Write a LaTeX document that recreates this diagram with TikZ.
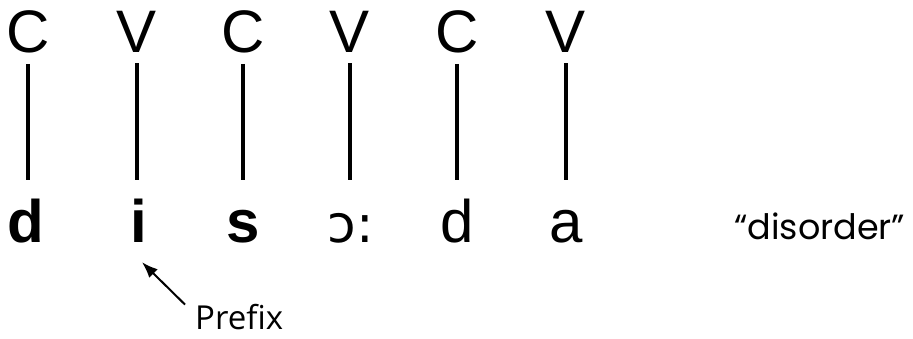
\documentclass[tikz,border=0pt]{standalone}
\usepackage{fontspec}
\setmainfont{Liberation Sans}
\newfontfamily\ipafont{DejaVu Sans}
\newfontfamily\glossfont{Poppins}
\newfontfamily\notefont{Open Sans}
\usetikzlibrary{arrows.meta}
\begin{document}
\begin{tikzpicture}[x=1pt, y=-1pt, >={Latex[length=16pt,width=12pt]},
    slot/.style={inner sep=0pt, anchor=base, font=\fontsize{60}{60}\selectfont},
    seg/.style={inner sep=0pt, anchor=base, text height=43pt, text depth=0pt,
        font=\fontsize{60}{60}\selectfont},
    tie/.style={line width=3.5pt, shorten <=11pt, shorten >=19pt}]
    \useasboundingbox (0,0) rectangle (913,338);

    % CV skeleton
    \node[slot] (t1) at (28,52) {C};
    \node[slot] (t2) at (137,52) {V};
    \node[slot] (t3) at (243,52) {C};
    \node[slot] (t4) at (350,52) {V};
    \node[slot] (t5) at (457,52) {C};
    \node[slot] (t6) at (566,52) {V};

    % segments
    \node[seg] (b1) at (26,242) {\bfseries d};
    \node[seg] (b2) at (139,242) {\bfseries i};
    \node[seg] (b3) at (243,242) {\bfseries s};
    \node[seg] (b4) at (351,242) {\ipafont\fontsize{52}{52}\selectfont ɔ:};
    \node[seg] (b5) at (457,242) {d};
    \node[seg] (b6) at (566,242) {a};

    % association lines (kept vertical)
    \foreach \i in {1,...,6}
        \draw[tie] (t\i.south) -- (t\i.south |- b\i.north);

    % gloss
    \node[anchor=base west, inner sep=0pt, font=\glossfont\fontsize{35}{35}\selectfont]
        (gl) at (734,239) {“disorder”};

    % prefix label
    \node[anchor=base west, inner sep=0pt, font=\notefont\fontsize{33}{33}\selectfont]
        (pf) at (195,329) {Prefix};
    \coordinate (tip) at ([xshift=3pt, yshift=-20pt]b2.south);
    \draw[->, line width=2pt] ([xshift=-10pt, yshift=-1pt]pf.north west) -- (tip);
\end{tikzpicture}
\end{document}
